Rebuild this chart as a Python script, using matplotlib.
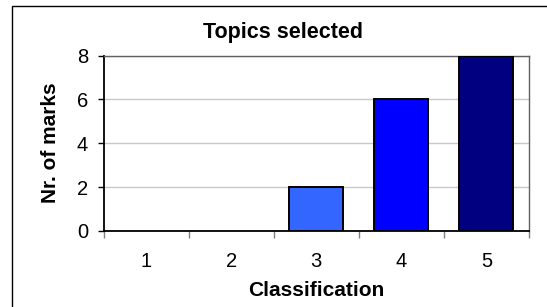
import matplotlib
matplotlib.use("Agg")
import matplotlib.pyplot as plt
from matplotlib.patches import Rectangle

categories = ["1", "2", "3", "4", "5"]
values = [0, 0, 2, 6, 8]
colors = ["#3366FF", "#3366FF", "#3366FF", "#0000FF", "#000080"]
yticks = [0, 2, 4, 6, 8]

W, H = 547, 307
plt.rcParams['font.family'] = ['Liberation Sans', 'DejaVu Sans']
fig = plt.figure(figsize=(W / 100, H / 100), dpi=100)
ax = fig.add_axes([103.5 / W, 1 - 231 / H, (529 - 103.5) / W, (231 - 55.5) / H])

x = list(range(len(categories)))
bars = ax.bar(x, values, width=0.635, color=colors, edgecolor="black", linewidth=1.4, zorder=3)
for v, b in zip(values, bars):
    if v == 0:
        b.set_visible(False)

ax.set_xlim(-0.5, len(categories) - 0.5)
ax.set_ylim(0, 8)
ax.set_yticks(yticks)
ax.set_yticklabels([str(t) for t in yticks])
ax.yaxis.grid(True, color="#c8c8c8", linewidth=1.0, zorder=0)
ax.set_axisbelow(True)

# category boundaries as major ticks, labels at centers as minor ticks
ax.set_xticks([i - 0.5 for i in range(len(categories) + 1)])
ax.set_xticklabels([])
ax.set_xticks(x, minor=True)
ax.set_xticklabels(categories, minor=True)
ax.tick_params(axis="x", which="major", length=5, color="#808080", width=1)
ax.tick_params(axis="x", which="minor", length=0, pad=15, labelsize=14.5)
ax.tick_params(axis="y", length=4, width=1, color="black", pad=7, labelsize=14.5)

for s in ["left", "bottom"]:
    ax.spines[s].set_color("black")
    ax.spines[s].set_linewidth(1.3)
for s in ["top", "right"]:
    ax.spines[s].set_color("#606060")
    ax.spines[s].set_linewidth(1.0)

fig.text(283 / W, 1 - 37.7 / H, "Topics selected", ha="center", va="baseline",
         fontsize=15.5, fontweight="bold")
fig.text(50.5 / W, 1 - 143 / H, "Nr. of marks", ha="center", va="center",
         rotation=90, fontsize=15, fontweight="bold")
fig.text(316.5 / W, 1 - 296 / H, "Classification", ha="center", va="baseline",
         fontsize=15, fontweight="bold")

fig.patches.append(Rectangle((11.5 / W, -0.1), 2.0, 1.1 - 6.5 / H, transform=fig.transFigure,
                             fill=False, edgecolor="black", linewidth=1.0))

fig.savefig("out.png", dpi=100)
